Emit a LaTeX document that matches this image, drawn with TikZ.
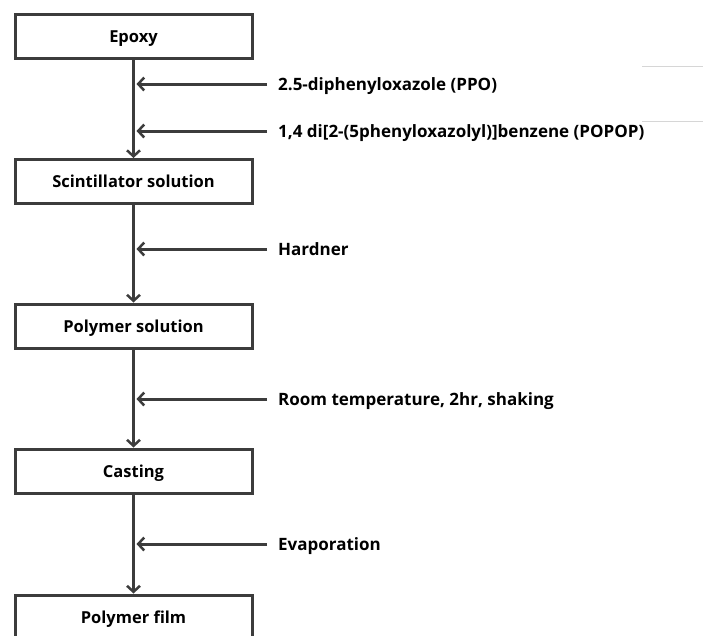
\documentclass[tikz,border=0pt]{standalone}
\usepackage{fontspec}
\setmainfont{Open Sans}
\usetikzlibrary{arrows.meta}
\definecolor{ink}{HTML}{3C3C3C}
\definecolor{faint}{HTML}{D6D6D6}
\tikzset{
  stage/.style={draw=ink, line width=3pt, fill=white, minimum width=237pt,
    minimum height=44pt, inner sep=0pt, font=\fontsize{16.5}{20}\selectfont\bfseries,
    text height=12pt, text depth=0pt},
  addlabel/.style={anchor=west, inner sep=0pt, font=\fontsize{17}{20}\selectfont\bfseries,
    text height=12.4pt, text depth=0pt},
  flow/.style={draw=ink, line width=3pt, -{Straight Barb[length=6pt,width=13pt,line width=2.5pt]}},
  feed/.style={draw=ink, line width=3pt, -{Straight Barb[length=6pt,width=13pt,line width=2.5pt]}},
}
\begin{document}
\begin{tikzpicture}[x=1pt,y=-1pt]
\useasboundingbox (0,0) rectangle (703,635);
\begin{scope}
\clip (0,0) rectangle (703,635);
% process stages
\node[stage] (epoxy) at (133.5,36.5) {Epoxy};
\node[stage] (scint) at (133.5,181.5) {Scintillator solution};
\node[stage] (polsol) at (133.5,326) {Polymer solution};
\node[stage] (cast) at (133.5,471) {Casting};
\node[stage] (film) at (133.5,617) {Polymer film};
% main flow
\draw[flow] (epoxy.south) -- (scint.north);
\draw[flow] (scint.south) -- (polsol.north);
\draw[flow] (polsol.south) -- (cast.north);
\draw[flow] (cast.south) -- (film.north);
\end{scope}
% additions and conditions
\node[addlabel] (ppo) at (278,84) {2.5-diphenyloxazole (PPO)};
\node[addlabel] (popop) at (278,131) {1,4 di[2-(5phenyloxazolyl)]benzene (POPOP)};
\node[addlabel] (hard) at (278,249) {Hardner};
\node[addlabel] (room) at (278,399) {Room temperature, 2hr, shaking};
\node[addlabel] (evap) at (278,544) {Evaporation};
\foreach \n in {ppo,popop,hard,room,evap}
  \draw[feed] ([xshift=-11pt]\n.west) -- ([xshift=3pt]\n.west -| epoxy.south);
% faint rules at the upper right
\coordinate (r1) at (642,66);
\coordinate (r2) at (642,121);
\draw[faint, line width=1pt] (r1) -- (r1 -| 703,0);
\draw[faint, line width=1pt] (r2) -- (r2 -| 703,0);
\end{tikzpicture}
\end{document}
